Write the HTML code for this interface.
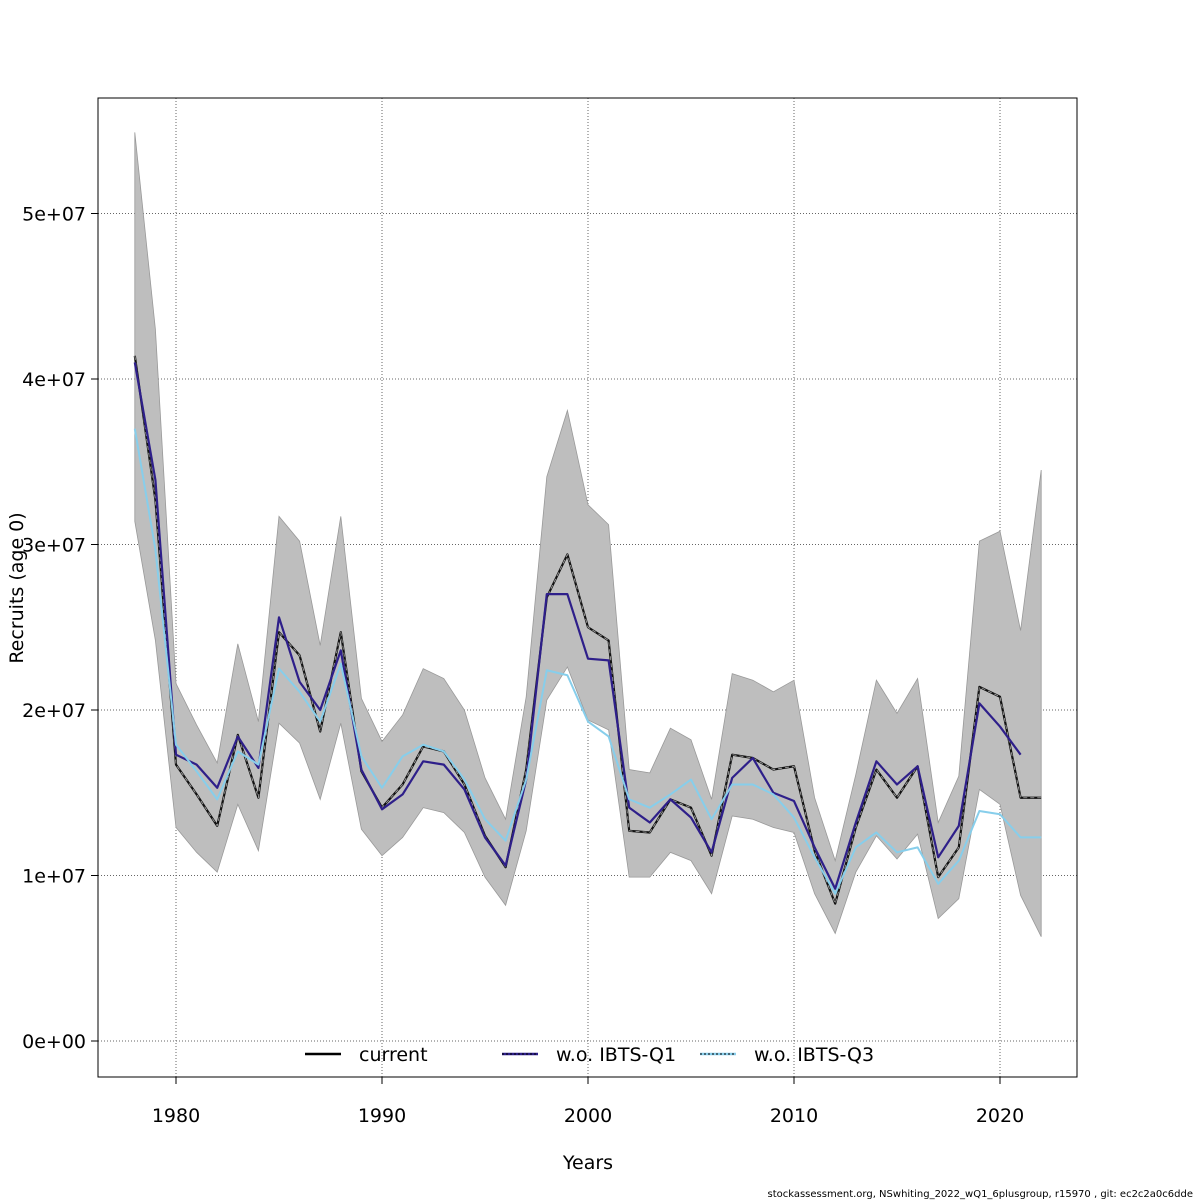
<!DOCTYPE html>
<html><head><meta charset="utf-8"><style>
body{margin:0;background:#fff;}
svg{display:block;font-family:"DejaVu Sans","Liberation Sans",sans-serif;}
</style></head><body>
<svg id="chart" width="1200" height="1200" viewBox="0 0 1200 1200">
<rect width="1200" height="1200" fill="#fff"/>
<g id="grid"></g>
<g id="band"></g>
<g id="lines"></g>
<rect x="98" y="98" width="979" height="979" fill="none" stroke="#000" stroke-width="1"/>
<g id="axes"></g>
<text x="588" y="1169" text-anchor="middle" font-size="19">Years</text>
<text transform="translate(23,588) rotate(-90)" text-anchor="middle" font-size="19">Recruits (age 0)</text>
<g id="legend"></g>
<text x="1193" y="1197" text-anchor="end" font-size="10">stockassessment.org, NSwhiting_2022_wQ1_6plusgroup, r15970 , git: ec2c2a0c6dde</text>
</svg>
<script>
const years=[];for(let y=1978;y<=2022;y++)years.push(y);
const current=[41.4,32.7,16.7,14.9,13.0,18.5,14.7,24.7,23.3,18.7,24.7,16.3,14.1,15.5,17.8,17.5,15.5,12.4,10.5,16.4,26.8,29.4,25.0,24.2,12.7,12.6,14.6,14.1,11.2,17.3,17.1,16.4,16.6,11.5,8.3,12.9,16.4,14.7,16.6,9.9,11.7,21.4,20.8,14.7,14.7];
const upper=[54.9,43.0,21.6,19.1,16.8,24.0,19.3,31.7,30.2,23.9,31.7,20.7,18.1,19.7,22.5,21.9,20.0,15.9,13.4,20.8,34.1,38.1,32.4,31.2,16.4,16.2,18.9,18.2,14.6,22.2,21.8,21.1,21.8,14.7,10.9,16.1,21.8,19.8,21.9,13.2,16.0,30.2,30.8,24.8,34.5];
const lower=[31.4,24.2,12.9,11.4,10.2,14.3,11.5,19.2,18.0,14.6,19.2,12.8,11.2,12.3,14.1,13.8,12.6,9.9,8.2,12.7,20.6,22.6,19.4,18.8,9.9,9.9,11.4,10.9,8.9,13.6,13.4,12.9,12.6,8.9,6.5,10.2,12.4,11.0,12.5,7.4,8.6,15.2,14.3,8.8,6.3];
const woQ1=[41.0,33.9,17.3,16.7,15.3,18.4,16.5,25.6,21.7,20.0,23.6,16.4,14.0,14.9,16.9,16.7,15.2,12.3,10.6,15.8,27.0,27.0,23.1,23.0,14.1,13.2,14.6,13.5,11.4,15.9,17.1,15.0,14.5,11.7,9.2,13.2,16.9,15.5,16.6,11.1,13.0,20.4,19.0,17.3];
const woQ3=[37.0,29.7,17.9,16.3,14.6,17.5,16.7,22.5,21.1,19.3,22.8,17.2,15.3,17.2,17.9,17.5,15.8,13.4,12.1,15.8,22.4,22.1,19.3,18.4,14.6,14.1,14.9,15.8,13.4,15.5,15.5,14.9,13.5,11.1,8.9,11.7,12.6,11.4,11.7,9.5,10.9,13.9,13.7,12.3,12.3];
const xTicks=[1980,1990,2000,2010,2020];
const yTicks=[0,10,20,30,40,50];
const yLabels=["0e+00","1e+07","2e+07","3e+07","4e+07","5e+07"];

const NS="http://www.w3.org/2000/svg";
const X=y=>176+(y-1980)*20.6;
const Y=v=>1041-v*16.55;
function mk(tag,attrs,parent){const e=document.createElementNS(NS,tag);for(const k in attrs)e.setAttribute(k,attrs[k]);document.getElementById(parent).appendChild(e);return e;}

xTicks.forEach(t=>{
  const g=mk('line',{x1:X(t),x2:X(t),y1:98,y2:1077,stroke:'#666','stroke-dasharray':'1,2'},'grid');
  
  
  const tk=mk('line',{x1:X(t),x2:X(t),y1:1077,y2:1084,stroke:'#000'},'axes');
  
  
  const tx=mk('text',{x:X(t),y:1122,'text-anchor':'middle','font-size':19},'axes');
  tx.textContent=t;
  
  
});
yTicks.forEach((t,i)=>{
  const g=mk('line',{x1:98,x2:1077,y1:Y(t),y2:Y(t),stroke:'#666','stroke-dasharray':'1,2'},'grid');
  
  
  const tk=mk('line',{x1:91,x2:98,y1:Y(t),y2:Y(t),stroke:'#000'},'axes');
  
  
  const tx=mk('text',{x:86,y:Y(t)+7,'text-anchor':'end','font-size':19},'axes');
  tx.textContent=yLabels[i];
  
  
});
let pts=years.map((y,i)=>X(y)+','+Y(upper[i]));
for(let i=years.length-1;i>=0;i--)pts.push(X(years[i])+','+Y(lower[i]));
const poly=mk('polygon',{points:pts.join(' '),fill:'#bebebe',stroke:'#999','stroke-width':0.8},'band');



function line(vals,stroke,w,dash,name){
  const p=vals.map((v,i)=>X(years[i])+','+Y(v)).join(' ');
  const a={points:p,fill:'none',stroke:stroke,'stroke-width':w,'stroke-linejoin':'round'};
  if(dash)a['stroke-dasharray']=dash;
  const e=mk('polyline',a,'lines');
  
  
}
line(current,'#111',2.2,null,'line-current');
line(current,'#aaa',0.8,'4,3','line-current-overlay');
line(woQ1,'#2e1f8a',2.2,null,'line-wo-ibts-q1');
line(woQ3,'#87ceeb',2,null,'line-wo-ibts-q3');

const leg=[[305,'current','#000'],[502,'w.o. IBTS-Q1','#2e1f8a'],[700,'w.o. IBTS-Q3','#87ceeb']];
leg.forEach(l=>{
  const ln=mk('line',{x1:l[0],x2:l[0]+36,y1:1054,y2:1054,stroke:l[2],'stroke-width':2.5},'legend');
  
  
  if(l[1]!=='current'){const d=mk('line',{x1:l[0],x2:l[0]+36,y1:1054,y2:1054,stroke:'#000','stroke-width':1,'stroke-dasharray':'2,2'},'legend');
  
  }
  const t=mk('text',{x:l[0]+54,y:1061,'font-size':19},'legend');
  t.textContent=l[1];
  
  
});
</script>
</body></html>
